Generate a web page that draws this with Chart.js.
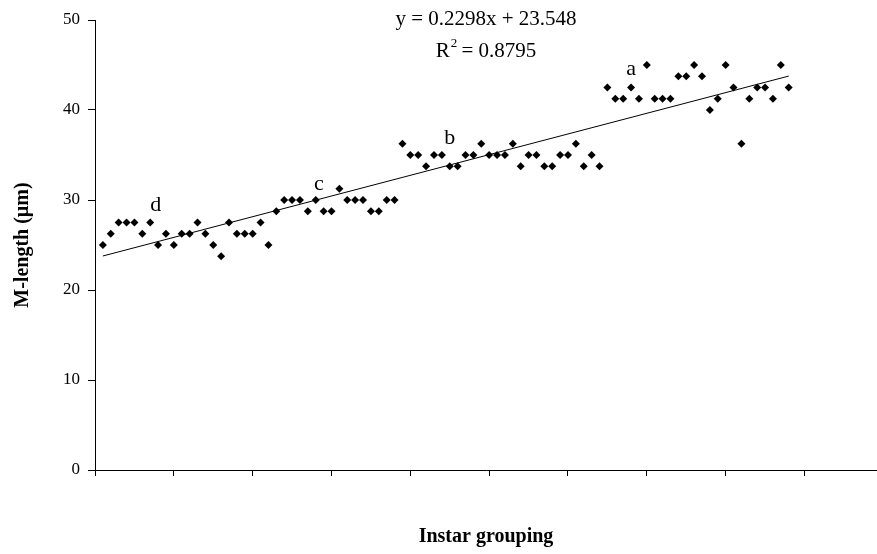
<!DOCTYPE html>
<html>
<head>
<meta charset="utf-8">
<script src="https://cdn.jsdelivr.net/npm/chart.js@4/dist/chart.umd.min.js"></script>
<style>
  html, body { margin: 0; padding: 0; background: #fff; }
  #wrap { width: 877px; height: 554px; position: relative; }
</style>
</head>
<body>
<div id="wrap"><canvas id="chart"></canvas></div>
<script>
// Measured M-length (µm) for each specimen, in instar-grouping order (x = 1..88)
const mLength = [
  25, 26.25, 27.5, 27.5, 27.5, 26.25, 27.5, 25, 26.25, 25,
  26.25, 26.25, 27.5, 26.25, 25, 23.75, 27.5, 26.25, 26.25, 26.25,
  27.5, 25, 28.75, 30, 30, 30, 28.75, 30, 28.75, 28.75,
  31.25, 30, 30, 30, 28.75, 28.75, 30, 30, 36.25, 35,
  35, 33.75, 35, 35, 33.75, 33.75, 35, 35, 36.25, 35,
  35, 35, 36.25, 33.75, 35, 35, 33.75, 33.75, 35, 35,
  36.25, 33.75, 35, 33.75, 42.5, 41.25, 41.25, 42.5, 41.25, 45,
  41.25, 41.25, 41.25, 43.75, 43.75, 45, 43.75, 40, 41.25, 45,
  42.5, 36.25, 41.25, 42.5, 42.5, 41.25, 45, 42.5
];
const specimenIndex = mLength.map((_, i) => i + 1);

// Linear trend line as reported: y = 0.2298x + 23.548, R² = 0.8795
const trendSlope = 0.2298;
const trendIntercept = 23.548;
const trendR2 = 0.8795;

// Group letters and where they sit (data units)
const groupLetters = ['d', 'c', 'b', 'a'];
const groupLetterX = [7.7, 28.4, 45.0, 68.0];
const groupLetterY = [29.4, 31.7, 36.9, 44.5];

const yTicks = [0, 10, 20, 30, 40, 50];

const serif = "'Liberation Serif', 'Times New Roman', serif";

const points = specimenIndex.map((x, i) => ({ x, y: mLength[i] }));
const xFirst = specimenIndex[0];
const xLast = specimenIndex[specimenIndex.length - 1];
const trendPoints = [
  { x: xFirst, y: trendSlope * xFirst + trendIntercept },
  { x: xLast, y: trendSlope * xLast + trendIntercept }
];

const textPlugin = {
  id: 'chartText',
  afterDatasetsDraw(chart) {
    const { ctx, scales: { x, y } } = chart;
    ctx.save();
    ctx.fillStyle = '#000';
    ctx.textAlign = 'center';
    ctx.textBaseline = 'middle';

    // group letters
    ctx.font = '22px ' + serif;
    groupLetters.forEach((t, i) => {
      ctx.fillText(t, x.getPixelForValue(groupLetterX[i]), y.getPixelForValue(groupLetterY[i]));
    });

    // regression equation
    const cx = 486;
    ctx.font = '21px ' + serif;
    ctx.fillText('y = ' + trendSlope + 'x + ' + trendIntercept, cx, 19);

    // R² line with a raised small "2"
    const rTxt = 'R';
    const rest = ' = ' + trendR2;
    const wR = ctx.measureText(rTxt).width;
    const wRest = ctx.measureText(rest).width;
    ctx.font = '13px ' + serif;
    const w2 = ctx.measureText('2').width;
    const total = wR + w2 + wRest;
    const sx = cx - total / 2;
    ctx.textAlign = 'left';
    ctx.font = '21px ' + serif;
    ctx.fillText(rTxt, sx, 51);
    ctx.font = '13px ' + serif;
    ctx.fillText('2', sx + wR + 1, 44);
    ctx.font = '21px ' + serif;
    ctx.fillText(rest, sx + wR + w2, 51);
    ctx.restore();
  }
};

new Chart(document.getElementById('chart'), {
  type: 'scatter',
  data: {
    datasets: [
      {
        label: 'M-length',
        data: points,
        pointStyle: 'rectRot',
        pointRadius: 4,
        pointHoverRadius: 4,
        backgroundColor: '#000',
        borderColor: '#000',
        borderWidth: 0
      },
      {
        type: 'line',
        label: 'Linear trend',
        data: trendPoints,
        borderColor: '#000',
        borderWidth: 1,
        pointRadius: 0,
        fill: false
      }
    ]
  },
  options: {
    responsive: true,
    maintainAspectRatio: false,
    animation: false,
    devicePixelRatio: 1,
    layout: { autoPadding: false, padding: { top: 20, right: 0, bottom: 0, left: 0 } },
    plugins: {
      legend: { display: false },
      tooltip: { enabled: false }
    },
    scales: {
      x: {
        type: 'linear',
        min: 0,
        max: 99.2,
        afterFit: (s) => { s.height = 84; },
        ticks: { stepSize: 10, display: false, includeBounds: false },
        grid: { display: true, drawOnChartArea: false, drawTicks: true, tickLength: 6, color: '#000', tickColor: '#000' },
        border: { display: true, color: '#000', width: 1 },
        title: {
          display: true,
          text: 'Instar grouping',
          color: '#000',
          font: { family: serif, size: 20, weight: 'bold' },
          padding: { top: 0, bottom: 5 }
        }
      },
      y: {
        min: 0,
        max: 50,
        afterFit: (s) => { s.width = 95; },
        afterBuildTicks: (s) => { s.ticks = yTicks.map(v => ({ value: v })); },
        ticks: { color: '#000', font: { family: serif, size: 17 }, padding: 8 },
        grid: { display: true, drawOnChartArea: false, drawTicks: true, tickLength: 7, color: '#000', tickColor: '#000' },
        border: { display: true, color: '#000', width: 1 },
        title: {
          display: true,
          text: 'M-length (µm)',
          color: '#000',
          font: { family: serif, size: 20, weight: 'bold' },
          padding: { top: 11, bottom: 0 }
        }
      }
    }
  },
  plugins: [textPlugin]
});
</script>
</body>
</html>
